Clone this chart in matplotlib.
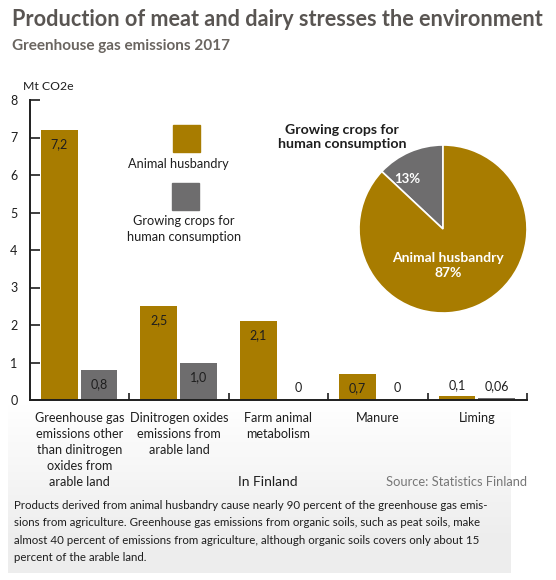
import matplotlib.pyplot as plt
import numpy as np

plt.rcParams['font.family'] = ['Lato', 'DejaVu Sans']

# data
categories = ['Greenhouse gas\nemissions other\nthan dinitrogen\noxides from\narable land',
              'Dinitrogen oxides\nemissions from\narable land',
              'Farm animal\nmetabolism',
              'Manure',
              'Liming']
animal = [7.2, 2.5, 2.1, 0.7, 0.1]
crops = [0.8, 1.0, 0.0, 0.0, 0.06]
animal_labels = ['7,2', '2,5', '2,1', '0,7', '0,1']
crops_labels = ['0,8', '1,0', '0', '0', '0,06']
pie_shares = [13, 87]
pie_labels = ['13%', 'Animal husbandry\n87%']

gold = '#a87c00'
grey = '#6e6d6e'
dark = '#1e1e1e'

W, H = 556, 580
fig = plt.figure(figsize=(W / 100, H / 100), dpi=100)

def px(x0, y0, x1, y1):
    # pixel box -> figure fraction rect
    return [x0 / W, 1 - y1 / H, (x1 - x0) / W, (y1 - y0) / H]

# soft grey background at the bottom
bg = fig.add_axes(px(8, 405, 510, 573), zorder=-5)
grad = np.clip(np.linspace(0, 1.25, 200), 0, 1)[:, None]
shade = 1 - grad * (1 - 0.93)
bg.imshow(np.dstack([shade, shade, shade]), aspect='auto', extent=[0, 1, 0, 1])
bg.axis('off')

# bar chart
ax = fig.add_axes(px(30, 100, 527, 400))
x = np.arange(len(categories))
w = 0.37
b1 = ax.bar(x - 0.205, animal, w, color=gold)
b2 = ax.bar(x + 0.195, crops, w, color=grey)

for bars, labels in ((b1, animal_labels), (b2, crops_labels)):
    for bar, lab in zip(bars, labels):
        h = bar.get_height()
        cx = bar.get_x() + bar.get_width() / 2
        if h >= 0.5:
            ax.annotate(lab, (cx, h), xytext=(0, -6), textcoords='offset points',
                        ha='center', va='top', fontsize=9, color=dark)
        else:
            ax.annotate(lab, (cx, h), xytext=(0, 4), textcoords='offset points',
                        ha='center', va='bottom', fontsize=9, color=dark)

ax.set_xlim(-0.5, 4.5)
ax.set_ylim(0, 8)
ax.set_yticks(range(9))
ax.tick_params(axis='y', direction='in', length=7, width=1.2, labelsize=9,
               colors=dark, pad=9)
ax.set_xticks(np.arange(0.5, 5, 1))
ax.set_xticklabels([])
ax.tick_params(axis='x', which='major', direction='in', length=5, width=1.2, colors=dark)
ax.set_xticks(x, minor=True)
ax.set_xticklabels(categories, minor=True, fontsize=9.1, color=dark, va='top', linespacing=1.4)
ax.tick_params(axis='x', which='minor', length=0, pad=9)
for s in ('top', 'right'):
    ax.spines[s].set_visible(False)
for s in ('left', 'bottom'):
    ax.spines[s].set_linewidth(1.4)
    ax.spines[s].set_color(dark)
ax.set_facecolor('none')

# legend squares
fig.patches.append(plt.Rectangle((173 / W, 1 - 152 / H), 27 / W, 27 / H,
                                 transform=fig.transFigure, color=gold))
fig.patches.append(plt.Rectangle((172 / W, 1 - 210 / H), 27 / W, 27 / H,
                                 transform=fig.transFigure, color=grey))
fig.text(178 / W, 1 - 164 / H, 'Animal husbandry', ha='center', va='center',
         fontsize=9.2, color=dark)
fig.text(184 / W, 1 - 229 / H, 'Growing crops for\nhuman consumption', ha='center',
         va='center', fontsize=9.2, color=dark, linespacing=1.35)

# pie
pax = fig.add_axes(px(359, 145, 527, 313))
wedges, texts = pax.pie(pie_shares, colors=[grey, gold], startangle=90, counterclock=True,
                        wedgeprops=dict(edgecolor='white', linewidth=1.2))
pax.set_xlim(-1, 1)
pax.set_ylim(-1, 1)
pax.axis('off')
pax.text(-0.43, 0.6, pie_labels[0], ha='center', va='center', color='white',
         fontsize=9.5, fontweight='bold')
pax.text(0.06, -0.43, pie_labels[1], ha='center', va='center', color='white',
         fontsize=10, fontweight='bold', linespacing=1.3)
fig.text(342 / W, 1 - 137 / H, 'Growing crops for\nhuman consumption', ha='center',
         va='center', fontsize=10.2, fontweight='bold', color=dark, linespacing=1.15)

# titles
fig.text(12 / W, 1 - 20 / H, 'Production of meat and dairy stresses the environment',
         ha='left', va='center', fontsize=15.6, fontweight='bold', color='#595552')
fig.text(12 / W, 1 - 46 / H, 'Greenhouse gas emissions 2017', ha='left', va='center',
         fontsize=11, fontweight='bold', color='#6a6560')
fig.text(23 / W, 1 - 86 / H, 'Mt CO2e', ha='left', va='center', fontsize=8.8, color=dark)

fig.text(268 / W, 1 - 482 / H, 'In Finland', ha='center', va='center', fontsize=10, color=dark)
fig.text(527 / W, 1 - 482 / H, 'Source: Statistics Finland', ha='right', va='center',
         fontsize=9.3, color='#777777')

note = ('Products derived from animal husbandry cause nearly 90 percent of the greenhouse gas emis-\n'
        'sions from agriculture. Greenhouse gas emissions from organic soils, such as peat soils, make\n'
        'almost 40 percent of emissions from agriculture, although organic soils covers only about 15\n'
        'percent of the arable land.')
fig.text(14 / W, 1 - 500 / H, note, ha='left', va='top', fontsize=8.3, color=dark,
         linespacing=1.72)

fig.savefig('out.png', dpi=100)
